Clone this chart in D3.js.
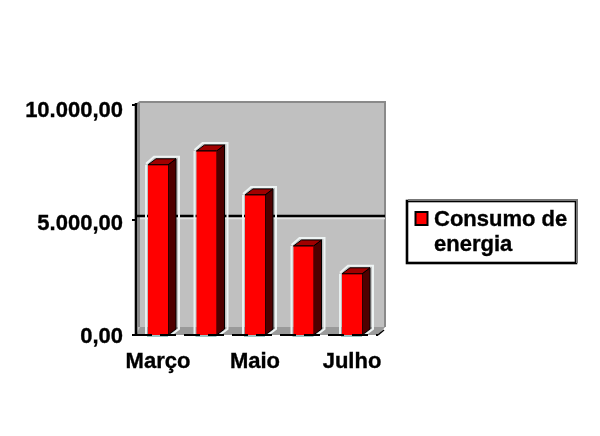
<!DOCTYPE html>
<html><head><meta charset="utf-8">
<script src="https://cdn.jsdelivr.net/npm/d3@7/dist/d3.min.js"></script>
<style>html,body{margin:0;padding:0;background:#fff}svg{display:block}
text{font-family:"Liberation Sans",Arial,sans-serif;fill:#000;stroke:#000;stroke-width:0.35px}</style></head>
<body><div id="c"></div>
<script>
const categories=["Março","Abril","Maio","Junho","Julho"];
const values=[7400,8000,6090,3870,2660];
const yTicks=[0,5000,10000];
const xTickLabels=["Março","Maio","Julho"];
const legendLines=["Consumo de","energia"];
const fmt=v=>d3.format(",.2f")(v).replace(/,/g,"#").replace(".",",").replace(/#/g,".");

const svg=d3.select("#c").append("svg").attr("width",600).attr("height",436);
const defs=svg.append("defs");
const f=defs.append("filter").attr("id","b").attr("filterUnits","userSpaceOnUse").attr("x",0).attr("y",0).attr("width",600).attr("height",436);
f.append("feGaussianBlur").attr("stdDeviation",0.7);
const g=svg.append("g").attr("filter","url(#b)");

const y=d3.scaleLinear().domain([0,10000]).range([335,105]);
const yLabel=d3.scaleLinear().domain([0,10000]).range([343,117]);
const x=d3.scaleBand().domain(categories).range([134,376]).paddingInner(0.588).paddingOuter(0.289);
const dx=8,dy=6,L=136,R=378;

// wall and floor
g.append("polygon").attr("points",[[L,y(10000)],[L+4,y(10000)-3],[R+7,y(10000)-3],[R+7,y(0)-8],[R,y(0)],[L,y(0)]].join(" ")).attr("fill","#c0c0c0");
g.append("polygon").attr("points",[[L,y(0)],[L+4,y(0)-8],[R+7,y(0)-8],[R,y(0)]].join(" ")).attr("fill","#9a9a9a");
g.append("path").attr("d",`M${L+3},${y(10000)-2}V${y(0)-8}`).attr("fill","none").attr("stroke","#8a8a8a").attr("stroke-width",2);
g.append("path").attr("d",`M${L+1},${y(10000)-1}L${L+4},${y(10000)-3}H${R+7}V${y(0)-8}`).attr("fill","none").attr("stroke","#8a8a8a").attr("stroke-width",2);

// gridline
yTicks.filter(v=>v>0&&v<10000).forEach(v=>{
  g.append("line").attr("x1",L+1).attr("x2",R+7).attr("y1",y(v)-4).attr("y2",y(v)-4).attr("stroke","#000").attr("stroke-width",2.6);
  g.append("line").attr("x1",L+4).attr("x2",R+7).attr("y1",y(v)-1.5).attr("y2",y(v)-1.5).attr("stroke","#e4e4e4").attr("stroke-width",1.5);
});

// bars
const bars=g.selectAll(".bar").data(categories.map((c,i)=>({c,v:values[i]}))).join("g").attr("class","bar");
bars.each(function(d){
  const s=d3.select(this),x0=x(d.c),w=x.bandwidth(),x1=x0+w,t=y(d.v),b=y(0);
  s.append("path").attr("d",`M${x0-2},${t-1}L${x0+dx-2},${t-dy-2}H${x1+dx+3}V${b-dy}L${x1+3},${b}`).attr("fill","none").attr("stroke","#eef4f4").attr("stroke-width",2);
  s.append("path").attr("d",`M${x0-2},${b}V${t}`).attr("stroke","#e8f0f0").attr("stroke-width",2);
  s.append("polygon").attr("points",[[x1,t],[x1+dx,t-dy],[x1+dx,b-dy],[x1,b]].join(" ")).attr("fill","#500000").attr("stroke","#000").attr("stroke-width",1);
  s.append("polygon").attr("points",[[x0,t],[x0+dx,t-dy],[x1+dx,t-dy],[x1,t]].join(" ")).attr("fill","#a00000").attr("stroke","#000").attr("stroke-width",1);
  s.append("rect").attr("x",x0).attr("y",t).attr("width",w).attr("height",b-t).attr("fill","#ff0000");
  s.append("line").attr("x1",x0).attr("x2",x1).attr("y1",t).attr("y2",t).attr("stroke","#000").attr("stroke-width",1);
  s.append("line").attr("x1",x0-1).attr("x2",x1).attr("y1",b+1).attr("y2",b+1).attr("stroke","#3a8a8a").attr("stroke-width",1);
});

// axes
g.append("line").attr("x1",L).attr("x2",L).attr("y1",y(10000)-2).attr("y2",y(0)+1).attr("stroke","#000").attr("stroke-width",2.6);
g.append("line").attr("x1",L).attr("x2",R).attr("y1",y(0)).attr("y2",y(0)).attr("stroke","#000").attr("stroke-width",1.8).attr("stroke-dasharray","16 8");
g.append("line").attr("x1",R).attr("x2",R+6).attr("y1",y(0)).attr("y2",y(0)-5).attr("stroke","#000").attr("stroke-width",1.5);
yTicks.forEach(v=>{
  g.append("line").attr("x1",L-4).attr("x2",L).attr("y1",y(v)).attr("y2",y(v)).attr("stroke","#000").attr("stroke-width",2);
  g.append("text").attr("x",123).attr("y",yLabel(v)).attr("text-anchor","end").attr("font-size",22).attr("font-weight","bold").text(fmt(v));
});
xTickLabels.forEach(c=>{
  g.append("text").attr("x",x(c)+x.bandwidth()/2).attr("y",368).attr("text-anchor","middle").attr("font-size",22).attr("font-weight","bold").text(c);
});

// legend
g.append("rect").attr("x",407).attr("y",201).attr("width",169).attr("height",62).attr("fill","#fff").attr("stroke","#000").attr("stroke-width",2.6);
g.append("path").attr("d","M408,200H577V263").attr("fill","none").attr("stroke","#777").attr("stroke-width",2);
g.append("rect").attr("x",415.5).attr("y",212).attr("width",12).attr("height",13).attr("fill","#ff0000").attr("stroke","#000").attr("stroke-width",2);
legendLines.forEach((t,i)=>{
  g.append("text").attr("x",434).attr("y",226+i*25).attr("font-size",22).attr("font-weight","bold").text(t);
});
</script></body></html>
